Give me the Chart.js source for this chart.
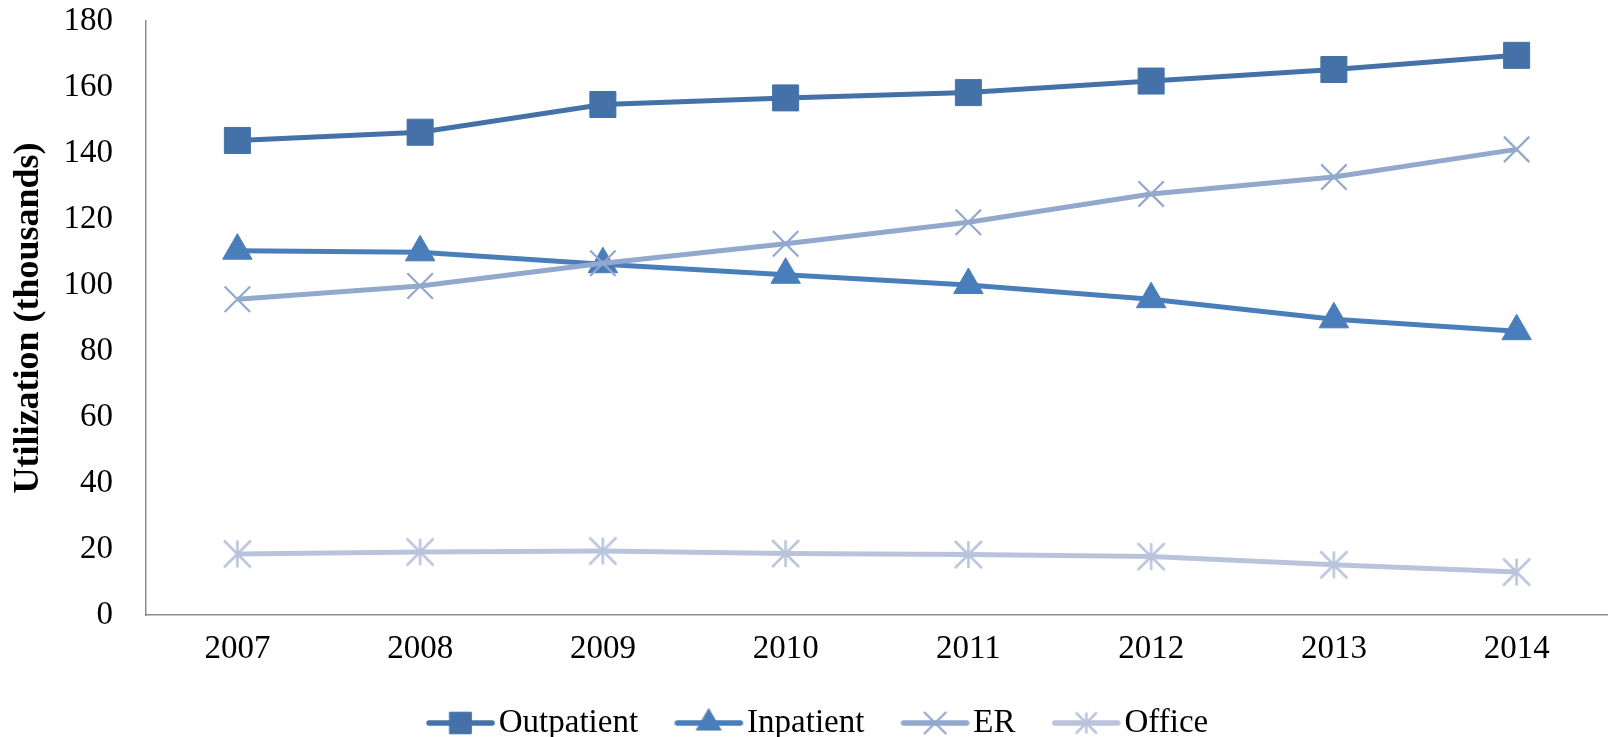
<!DOCTYPE html>
<html>
<head>
<meta charset="utf-8">
<script src="https://cdn.jsdelivr.net/npm/chart.js@4.4.1/dist/chart.umd.min.js"></script>
<style>
  body { margin: 0; background: #fff; }
  #chart { display: block; }
</style>
</head>
<body>
<canvas id="chart" width="1608" height="737"></canvas>
<script>
const years = ['2007', '2008', '2009', '2010', '2011', '2012', '2013', '2014'];
const outpatient = [143.8, 146.3, 154.7, 156.7, 158.3, 161.8, 165.3, 169.6];
const inpatient = [110.4, 109.9, 106.3, 103.1, 100.0, 95.7, 89.6, 86.0];
const er = [95.7, 99.7, 106.6, 112.5, 119.0, 127.6, 132.7, 141.1];
const office = [18.5, 19.1, 19.4, 18.6, 18.3, 17.7, 15.2, 13.0];
const yTicks = [0, 20, 40, 60, 80, 100, 120, 140, 160, 180];

const fontFamily = "'Liberation Serif', 'Times New Roman', serif";

// excel style asterisk: vertical bar plus an X reaching the corners
function asterisk(size, color, lw) {
  const c = document.createElement('canvas');
  c.width = size + 4;
  c.height = size + 4;
  const g = c.getContext('2d');
  const m = 2, e = size + 2;
  g.strokeStyle = color;
  g.lineWidth = lw;
  g.beginPath();
  g.moveTo(c.width / 2, m);
  g.lineTo(c.width / 2, e);
  g.moveTo(m, m);
  g.lineTo(e, e);
  g.moveTo(e, m);
  g.lineTo(m, e);
  g.stroke();
  return c;
}

const series = [
  { label: 'Outpatient', data: outpatient, color: '#4472A8', style: 'rect', radius: 18.4, bw: 1 },
  { label: 'Inpatient', data: inpatient, color: '#4A7EBB', style: 'triangle', radius: 17, bw: 1 },
  { label: 'ER', data: er, color: '#92A8CD', style: 'crossRot', radius: 18, bw: 2.2 },
  { label: 'Office', data: office, color: '#B9C4DC', style: 'asterisk', radius: 14, bw: 2.5 },
];

// legend sample: a short line with the marker in the middle, drawn on the right of a wider canvas
function legendImage(s) {
  const c = document.createElement('canvas');
  c.width = 120;
  c.height = 30;
  const g = c.getContext('2d');
  const x0 = 45, x1 = 114, cx = (x0 + x1) / 2;
  g.strokeStyle = s.color;
  g.fillStyle = s.color;
  g.lineWidth = 5.5;
  g.lineCap = 'round';
  g.beginPath();
  g.moveTo(x0 + 3, 15);
  g.lineTo(x1 - 3, 15);
  g.stroke();
  if (s.style == 'asterisk') {
    const a = asterisk(21, s.color, s.bw);
    g.drawImage(a, cx - a.width / 2, 15 - a.height / 2);
  } else {
    g.lineWidth = s.bw;
    Chart.helpers.drawPoint(g, { pointStyle: s.style, radius: s.radius * 0.83, rotation: 0, borderWidth: s.bw }, cx, 15);
  }
  return c;
}

const datasets = series.map((s, i) => ({
  label: s.label,
  data: s.data,
  borderColor: s.color,
  backgroundColor: s.color,
  borderWidth: 5,
  pointStyle: s.style == 'asterisk' ? asterisk(27, s.color, s.bw) : s.style,
  pointRadius: s.radius,
  pointBorderWidth: s.bw,
  pointBackgroundColor: s.color,
  pointBorderColor: s.color,
  tension: 0,
  order: series.length - i,
  legendImg: legendImage(s),
}));

const config = {
  type: 'line',
  data: {
    labels: years,
    datasets: datasets,
  },
  options: {
    responsive: false,
    animation: false,
    devicePixelRatio: 1,
    layout: {
      // big markers would otherwise push the plot away from the right edge
      autoPadding: false,
      padding: { left: 0, right: 0, top: 21, bottom: -12.5 },
    },
    plugins: {
      legend: {
        position: 'bottom',
        labels: {
          usePointStyle: true,
          pointStyleWidth: 82.5,
          boxHeight: 30,
          padding: 10,
          color: '#000',
          font: { family: fontFamily, size: 33 },
          generateLabels: function (chart) {
            return chart.data.datasets.map((ds, i) => ({
              text: ds.label,
              pointStyle: ds.legendImg,
              fillStyle: ds.borderColor,
              strokeStyle: ds.borderColor,
              lineWidth: 0,
              hidden: false,
              datasetIndex: i,
              fontColor: '#000',
            }));
          },
        },
        onClick: (e) => e.stopPropagation(),
      },
      tooltip: { enabled: false },
    },
    scales: {
      x: {
        offset: true,
        grid: { display: false, drawTicks: false },
        border: { display: true, color: '#8C8C8C', width: 1.5 },
        ticks: {
          color: '#000',
          padding: 15,
          maxRotation: 0,
          font: { family: fontFamily, size: 33 },
        },
        afterFit: function (scale) {
          scale.height = 81.5;
          scale.paddingLeft = 0;
          scale.paddingRight = 0;
        },
      },
      y: {
        min: 0,
        max: 180,
        afterBuildTicks: function (scale) {
          scale.ticks = yTicks.map((v) => ({ value: v }));
        },
        grid: { display: false, drawTicks: false },
        border: { display: true, color: '#8C8C8C', width: 1.5 },
        ticks: {
          color: '#000',
          padding: 33,
          font: { family: fontFamily, size: 33 },
        },
        title: {
          display: true,
          text: 'Utilization (thousands)',
          color: '#000',
          padding: { top: 7, bottom: 0 },
          font: { family: fontFamily, size: 36, weight: 'bold' },
        },
        afterFit: function (scale) {
          scale.width = 146;
          scale.paddingTop = 0;
          scale.paddingBottom = 0;
        },
      },
    },
  },
};

const ctx = document.getElementById('chart');
new Chart(ctx, config);
</script>
</body>
</html>
